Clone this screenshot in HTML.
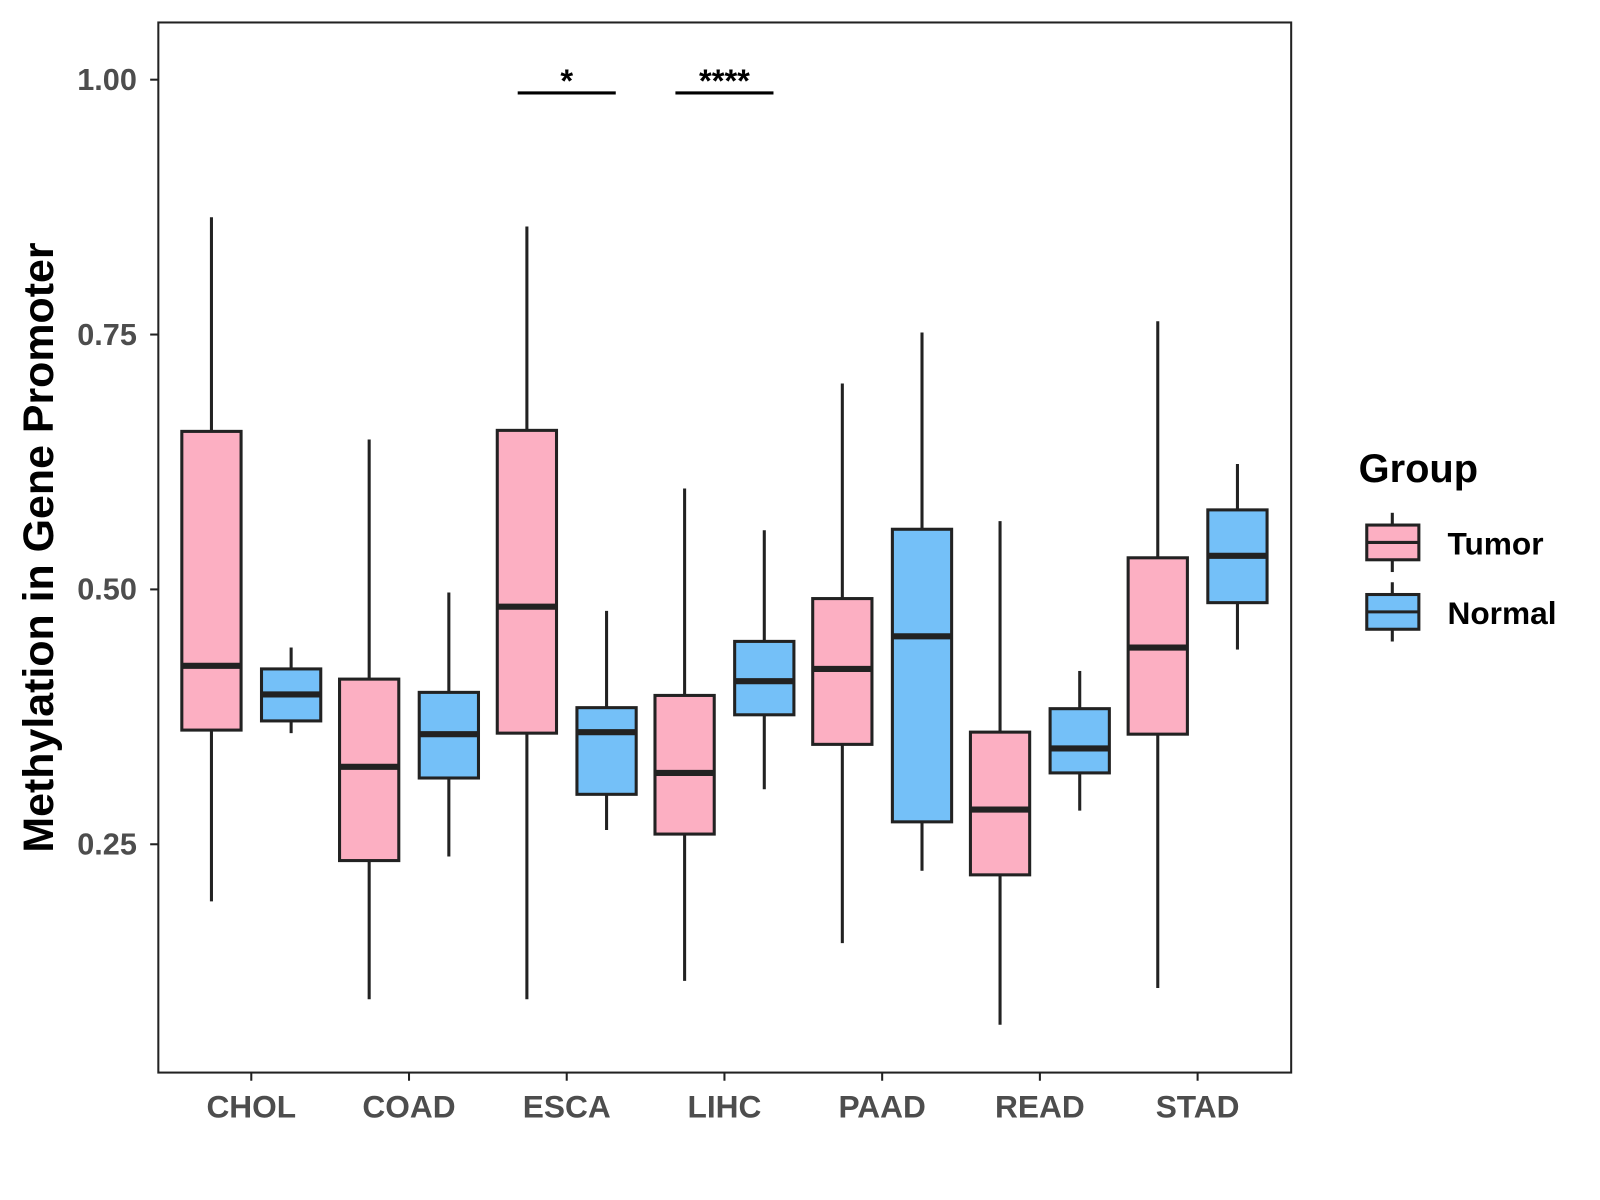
<!DOCTYPE html>
<html><head><meta charset="utf-8"><style>
html,body{margin:0;padding:0;background:#fff}
svg{display:block;font-family:"Liberation Sans",Arial,sans-serif;font-weight:bold}
</style></head><body>
<svg id="chart" width="1600" height="1200" viewBox="0 0 1600 1200">
<g transform="scale(1.0215)">
<rect x="155" y="22" width="1109" height="1028" fill="#fff" stroke="#222" stroke-width="2"/>
<g id="marks"></g>
<g id="axes"></g>
<text x="52" y="536" transform="rotate(-90 52 536)" text-anchor="middle" font-size="42" fill="#000">Methylation in Gene Promoter</text>
<g>
<text x="1330" y="472" font-size="39" fill="#000">Group</text>
<g>
<line x1="1363" y1="502" x2="1363" y2="514" stroke="#222" stroke-width="3"/>
<line x1="1363" y1="548" x2="1363" y2="560" stroke="#222" stroke-width="3"/>
<rect x="1338" y="514" width="51" height="34" fill="#fcafc2" stroke="#222" stroke-width="3"/>
<line x1="1338" y1="531" x2="1389" y2="531" stroke="#222" stroke-width="3"/>
<text x="1417" y="543" font-size="31" fill="#000">Tumor</text>
</g>
<g>
<line x1="1363" y1="570" x2="1363" y2="582" stroke="#222" stroke-width="3"/>
<line x1="1363" y1="616" x2="1363" y2="628" stroke="#222" stroke-width="3"/>
<rect x="1338" y="582" width="51" height="34" fill="#74c0f8" stroke="#222" stroke-width="3"/>
<line x1="1338" y1="599" x2="1389" y2="599" stroke="#222" stroke-width="3"/>
<text x="1417" y="611" font-size="31" fill="#000">Normal</text>
</g>
</g>
</g>
</svg>
<script>
const categories=["CHOL","COAD","ESCA","LIHC","PAAD","READ","STAD"];
const tumorLow=[0.194,0.098,0.098,0.116,0.153,0.073,0.109];
const tumorQ1=[0.362,0.234,0.359,0.260,0.348,0.220,0.358];
const tumorMed=[0.425,0.326,0.483,0.320,0.422,0.284,0.443];
const tumorQ3=[0.655,0.412,0.656,0.396,0.491,0.360,0.531];
const tumorHigh=[0.865,0.647,0.856,0.599,0.702,0.567,0.763];
const normalLow=[0.359,0.238,0.264,0.304,0.224,0.283,0.441];
const normalQ1=[0.371,0.315,0.299,0.377,0.272,0.320,0.487];
const normalMed=[0.397,0.358,0.360,0.410,0.454,0.344,0.533];
const normalQ3=[0.422,0.399,0.384,0.449,0.559,0.383,0.578];
const normalHigh=[0.443,0.497,0.479,0.558,0.752,0.420,0.623];
const yTicks=[0.25,0.5,0.75,1.0];
const yTickLabels=["0.25","0.50","0.75","1.00"];
const sigCats=["ESCA","LIHC"];
const sigLabels=["*","****"];
const sigY=0.987;

const NS="http://www.w3.org/2000/svg";
const y=v=>78+(1-v)*998;
const x=i=>246+i*154.4;
const marks=document.getElementById('marks');
const axes=document.getElementById('axes');
function mk(tag,attrs,parent){const e=document.createElementNS(NS,tag);for(const k in attrs)e.setAttribute(k,attrs[k]);parent.appendChild(e);return e;}
function box(cx,lo,q1,md,q3,hi,fill,name,parent){
  const g=mk('g',{},parent);
  
  
  mk('line',{x1:cx,x2:cx,y1:y(hi),y2:y(q3),stroke:'#222','stroke-width':3},g);
  mk('line',{x1:cx,x2:cx,y1:y(q1),y2:y(lo),stroke:'#222','stroke-width':3},g);
  mk('rect',{x:cx-29,y:y(q3),width:58,height:y(q1)-y(q3),fill:fill,stroke:'#222','stroke-width':3},g);
  mk('line',{x1:cx-29,x2:cx+29,y1:y(md),y2:y(md),stroke:'#222','stroke-width':6},g);
}
categories.forEach((c,i)=>{
  box(x(i)-39,tumorLow[i],tumorQ1[i],tumorMed[i],tumorQ3[i],tumorHigh[i],'#fcafc2','box-tumor-'+c.toLowerCase(),marks);
  box(x(i)+39,normalLow[i],normalQ1[i],normalMed[i],normalQ3[i],normalHigh[i],'#74c0f8','box-normal-'+c.toLowerCase(),marks);
  mk('line',{x1:x(i),x2:x(i),y1:1050,y2:1058,stroke:'#222','stroke-width':2},axes);
  const t=mk('text',{x:x(i),y:1094,'text-anchor':'middle','font-size':31,fill:'#4d4d4d'},axes);
  t.textContent=c;
  
  
});
yTicks.forEach((v,i)=>{
  mk('line',{x1:147,x2:155,y1:y(v),y2:y(v),stroke:'#222','stroke-width':2},axes);
  const t=mk('text',{x:134,y:y(v)+10,'text-anchor':'end','font-size':30,fill:'#4d4d4d'},axes);
  t.textContent=yTickLabels[i];
  
  
});
sigCats.forEach((c,k)=>{
  const i=categories.indexOf(c);
  const g=mk('g',{},marks);
  
  
  mk('line',{x1:x(i)-48,x2:x(i)+48,y1:y(sigY),y2:y(sigY),stroke:'#000','stroke-width':3},g);
  const t=mk('text',{x:x(i),y:y(sigY)-1,'text-anchor':'middle','font-size':32,fill:'#000'},g);
  t.textContent=sigLabels[k];
});
</script>
</body></html>
